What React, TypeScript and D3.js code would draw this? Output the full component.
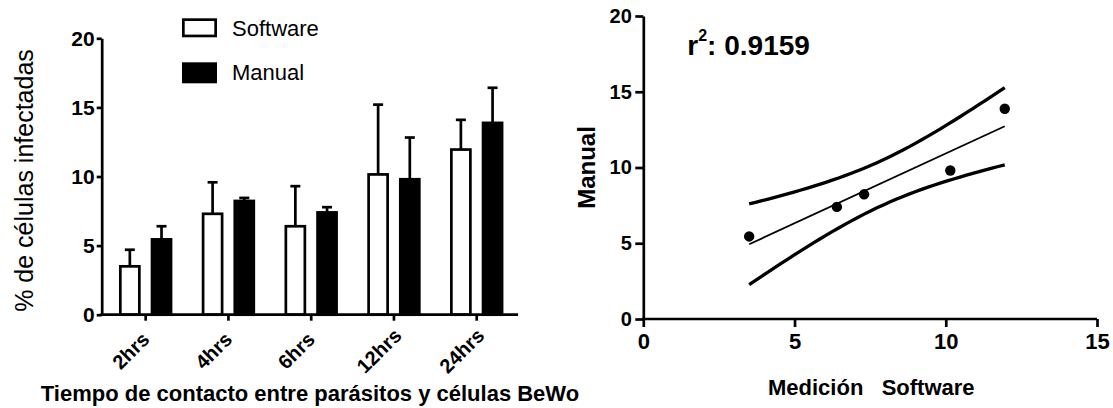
import React, { useEffect, useRef } from 'react';
import * as d3 from 'd3';

// bar chart data
const categories = ['2hrs', '4hrs', '6hrs', '12hrs', '24hrs'];
const seriesNames = ['Software', 'Manual'];
const softwareMean = [3.5, 7.3, 6.4, 10.15, 11.95];
const softwareSd = [1.2, 2.28, 2.9, 5.05, 2.15];
const manualMean = [5.45, 8.23, 7.4, 9.8, 13.88];
const manualSd = [0.95, 0.22, 0.38, 3.02, 2.54];
const yTicks = [0, 5, 10, 15, 20];

// scatter / correlation panel
const scatterXTicks = [0, 5, 10, 15];
const r2Value = '0.9159';
const tCrit = 3.182; // t(0.975, df = 3)

const FONT = '"Liberation Sans", Arial, sans-serif';

export default function App() {
  const ref = useRef<SVGSVGElement>(null);

  useEffect(() => {
    const svg = d3.select(ref.current);
    svg.selectAll('*').remove();

    // ---------------- left: grouped bars ----------------
    const x0 = d3.scaleBand<string>().domain(categories).range([104.3, 518.1]).padding(0);
    const x1 = d3.scaleBand<string>().domain(seriesNames).range([-25.35, 25.35]).paddingInner(0.4);
    const y0 = d3.scaleLinear().domain([0, 20]).range([314.7, 38.3]);
    const left = svg.append('g');

    const rows = categories.flatMap((c, i) => [
      { cat: c, name: 'Software', mean: softwareMean[i], sd: softwareSd[i] },
      { cat: c, name: 'Manual', mean: manualMean[i], sd: manualSd[i] },
    ]);
    const barX = (d: any) => (x0(d.cat) as number) + x0.bandwidth() / 2 + (x1(d.name) as number);
    const barC = (d: any) => barX(d) + x1.bandwidth() / 2;

    // error bars (upper only)
    left.selectAll('.err').data(rows).join('line').attr('class', 'err')
      .attr('x1', barC).attr('x2', barC)
      .attr('y1', d => y0(d.mean)).attr('y2', d => y0(d.mean + d.sd))
      .attr('stroke', '#000').attr('stroke-width', 2.7);
    left.selectAll('.cap').data(rows).join('line').attr('class', 'cap')
      .attr('x1', d => barC(d) - 5).attr('x2', d => barC(d) + 5)
      .attr('y1', d => y0(d.mean + d.sd)).attr('y2', d => y0(d.mean + d.sd))
      .attr('stroke', '#000').attr('stroke-width', 2.7);

    left.selectAll('.bar').data(rows).join('rect').attr('class', 'bar')
      .attr('x', barX)
      .attr('width', x1.bandwidth())
      .attr('y', d => y0(d.mean))
      .attr('height', d => y0(0) - y0(d.mean))
      .attr('fill', d => (d.name === 'Software' ? '#fff' : '#000'))
      .attr('stroke', '#000').attr('stroke-width', 2.7);

    // y axis
    const yAx = left.append('g').attr('transform', 'translate(101.7,0)')
      .call(d3.axisLeft(y0).tickValues(yTicks).tickSize(5).tickSizeOuter(0).tickPadding(2));
    yAx.selectAll('path, line').attr('stroke', '#000').attr('stroke-width', 2.7);
    yAx.selectAll('text').attr('font-family', FONT).attr('font-size', 21).attr('font-weight', 'bold').attr('fill', '#000');

    // x axis
    left.append('line')
      .attr('x1', 100.35).attr('x2', 518.1).attr('y1', y0(0)).attr('y2', y0(0))
      .attr('stroke', '#000').attr('stroke-width', 2.7);
    const xAx = left.append('g').attr('transform', `translate(0,${y0(0)})`)
      .call(d3.axisBottom(x0).tickSize(6).tickSizeOuter(0));
    xAx.select('.domain').remove();
    xAx.selectAll('line').attr('stroke', '#000').attr('stroke-width', 2.7);
    xAx.selectAll('text')
      .attr('font-family', FONT).attr('font-size', 20).attr('font-weight', 'bold').attr('fill', '#000')
      .attr('text-anchor', 'middle').attr('dominant-baseline', 'central')
      .attr('x', 0).attr('y', 0).attr('dy', null)
      .attr('transform', 'translate(-15,36) rotate(-45)');

    // titles
    left.append('text')
      .attr('transform', `translate(33,${(y0(0) + y0(20)) / 2 + 4}) rotate(-90)`)
      .attr('text-anchor', 'middle')
      .attr('font-family', FONT).attr('font-size', 25)
      .text('% de células infectadas');
    left.append('text')
      .attr('x', 310).attr('y', 401)
      .attr('text-anchor', 'middle')
      .attr('font-family', FONT).attr('font-size', 22).attr('font-weight', 'bold')
      .text('Tiempo de contacto entre parásitos y células BeWo');

    // legend
    const legend = left.append('g');
    legend.append('rect').attr('x', 183.35).attr('y', 19.65).attr('width', 32.3).attr('height', 16.3)
      .attr('fill', '#fff').attr('stroke', '#000').attr('stroke-width', 2.7);
    legend.append('rect').attr('x', 182).attr('y', 62.3).attr('width', 35).attr('height', 21)
      .attr('fill', '#000');
    legend.selectAll('.lt').data(seriesNames).join('text').attr('class', 'lt')
      .attr('x', 232).attr('y', (d, i) => (i === 0 ? 35.7 : 80))
      .attr('font-family', FONT).attr('font-size', 22)
      .text(d => d);

    // ---------------- right: correlation ----------------
    const xs = d3.scaleLinear().domain([0, 15]).range([643.3, 1097]);
    const ys = d3.scaleLinear().domain([0, 20]).range([319, 16]);
    const right = svg.append('g');

    const ryAx = right.append('g').attr('transform', 'translate(643.3,0)')
      .call(d3.axisLeft(ys).tickValues(yTicks).tickSize(8).tickSizeOuter(0).tickPadding(3.5));
    ryAx.selectAll('path, line').attr('stroke', '#000').attr('stroke-width', 2.7);
    ryAx.selectAll('text').attr('font-family', FONT).attr('font-size', 20).attr('font-weight', 'bold').attr('fill', '#000');

    const rxAx = right.append('g').attr('transform', `translate(0,${ys(0)})`)
      .call(d3.axisBottom(xs).tickValues(scatterXTicks).tickSize(8).tickSizeOuter(0));
    rxAx.select('.domain').attr('d', `M${643.3 - 1.35},0H1097`);
    rxAx.selectAll('path, line').attr('stroke', '#000').attr('stroke-width', 2.7);
    rxAx.selectAll('text').attr('font-family', FONT).attr('font-size', 22).attr('font-weight', 'bold').attr('fill', '#000')
      .attr('y', 29.5).attr('dy', null);

    // linear fit with 95% confidence band
    const pts = softwareMean.map((v, i) => [v, manualMean[i]] as [number, number]);
    const n = pts.length;
    const mx = d3.mean(pts, d => d[0]) as number;
    const my = d3.mean(pts, d => d[1]) as number;
    const sxx = d3.sum(pts, d => (d[0] - mx) ** 2);
    const sxy = d3.sum(pts, d => (d[0] - mx) * (d[1] - my));
    const slope = sxy / sxx;
    const icpt = my - slope * mx;
    const fit = (x: number) => icpt + slope * x;
    const sres = Math.sqrt(d3.sum(pts, d => (d[1] - fit(d[0])) ** 2) / (n - 2));
    const half = (x: number) => tCrit * sres * Math.sqrt(1 / n + (x - mx) ** 2 / sxx);
    const [xmin, xmax] = d3.extent(pts, d => d[0]) as [number, number];
    const grid = d3.range(0, 41).map(k => xmin + ((xmax - xmin) * k) / 40);

    const line = d3.line<number[]>().x(d => xs(d[0])).y(d => ys(d[1]));
    right.append('path').attr('d', line(grid.map(x => [x, fit(x) + half(x)])))
      .attr('fill', 'none').attr('stroke', '#000').attr('stroke-width', 3.3);
    right.append('path').attr('d', line(grid.map(x => [x, fit(x) - half(x)])))
      .attr('fill', 'none').attr('stroke', '#000').attr('stroke-width', 3.3);
    right.append('path').attr('d', line([[xmin, fit(xmin)], [xmax, fit(xmax)]]))
      .attr('fill', 'none').attr('stroke', '#000').attr('stroke-width', 1.8);

    right.selectAll('.pt').data(pts).join('circle').attr('class', 'pt')
      .attr('cx', d => xs(d[0])).attr('cy', d => ys(d[1])).attr('r', 5.2).attr('fill', '#000');

    // r² label
    const r2 = right.append('text').attr('x', 687.3).attr('y', 55)
      .attr('font-family', FONT).attr('font-size', 28).attr('font-weight', 'bold');
    r2.append('tspan').text('r');
    r2.append('tspan').attr('font-size', 16).attr('dy', -14).text('2');
    r2.append('tspan').attr('dy', 14).text(': ' + r2Value);

    // axis titles
    right.append('text')
      .attr('transform', `translate(595,${(ys(0) + ys(20)) / 2}) rotate(-90)`)
      .attr('text-anchor', 'middle')
      .attr('font-family', FONT).attr('font-size', 24).attr('font-weight', 'bold')
      .text('Manual');
    right.append('text')
      .attr('x', 768).attr('y', 395)
      .attr('font-family', FONT).attr('font-size', 22).attr('font-weight', 'bold')
      .text('Medición\u00A0\u00A0\u00A0Software');
  }, []);

  return (
    <svg ref={ref} width={1113} height={408}
      style={{ position: 'absolute', left: 0, top: 0, background: '#fff' }} />
  );
}
